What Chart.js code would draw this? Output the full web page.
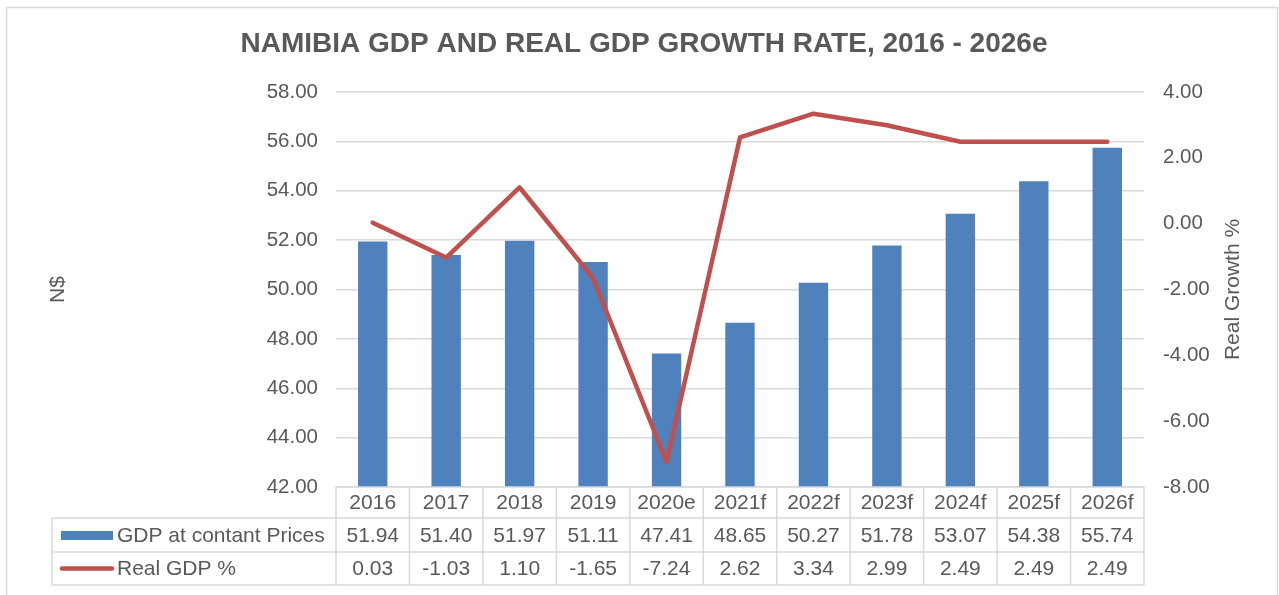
<!DOCTYPE html>
<html>
<head>
<meta charset="utf-8">
<script src="https://cdn.jsdelivr.net/npm/chart.js@4"></script>
<style>
  body { margin: 0; background: #fff; }
</style>
</head>
<body>
<canvas id="gdpChart" width="1279" height="595"></canvas>
<script>
let years = ['2016', '2017', '2018', '2019', '2020e', '2021f', '2022f', '2023f', '2024f', '2025f', '2026f'];
let gdpValues = [51.94, 51.40, 51.97, 51.11, 47.41, 48.65, 50.27, 51.78, 53.07, 54.38, 55.74];
let growthValues = [0.03, -1.03, 1.10, -1.65, -7.24, 2.62, 3.34, 2.99, 2.49, 2.49, 2.49];
let gdpLabel = 'GDP at contant Prices';
let growthLabel = 'Real GDP %';
let rightTitle = 'Real Growth %';

let textColor = '#595959';
let gridColor = '#d9d9d9';
let barColor = '#4f81bd';
let lineColor = '#c0504d';
let font = 'Liberation Sans, Arial, sans-serif';

// draws the frame, the right axis title and the data table under the plot, like Excel does
let dataTable = {
    id: 'dataTable',
    beforeDraw(chart) {
        let c = chart.ctx;
        c.save();
        c.fillStyle = '#fff';
        c.fillRect(0, 0, chart.width, chart.height);
        c.strokeStyle = gridColor;
        c.lineWidth = 1.5;
        c.strokeRect(6.5, 7.5, chart.width - 8, chart.height + 10);
        c.restore();
    },
    afterDraw(chart) {
        let c = chart.ctx;
        let x = chart.scales.x;
        let area = chart.chartArea;
        let colW = (area.right - area.left) / years.length;
        let top = area.bottom;
        let rows = [top, top + 31, top + 65, top + 98];
        let tableLeft = 52;

        c.save();

        // right axis title, reading upwards
        c.font = '21px ' + font;
        c.fillStyle = textColor;
        c.textAlign = 'center';
        c.textBaseline = 'middle';
        c.translate(1233, (area.top + area.bottom) / 2);
        c.rotate(-Math.PI / 2);
        c.fillText(rightTitle, 0, 0);
        c.setTransform(1, 0, 0, 1, 0, 0);

        c.strokeStyle = gridColor;
        c.lineWidth = 1.5;

        // horizontal lines
        c.beginPath();
        c.moveTo(area.left, rows[0]);
        c.lineTo(area.right, rows[0]);
        for (let r = 1; r < rows.length; r++) {
            c.moveTo(tableLeft, rows[r]);
            c.lineTo(area.right, rows[r]);
        }
        // vertical lines
        c.moveTo(tableLeft, rows[1]);
        c.lineTo(tableLeft, rows[3]);
        for (let i = 0; i <= years.length; i++) {
            let px = area.left + i * colW;
            c.moveTo(px, rows[0]);
            c.lineTo(px, rows[3]);
        }
        c.stroke();

        c.font = '21px ' + font;
        c.fillStyle = textColor;
        c.textBaseline = 'middle';
        c.textAlign = 'center';
        years.forEach((y, i) => {
            let px = x.getPixelForValue(i);
            c.fillText(y, px, (rows[0] + rows[1]) / 2 + 1);
            c.fillText(gdpValues[i].toFixed(2), px, (rows[1] + rows[2]) / 2 + 1);
            c.fillText(growthValues[i].toFixed(2), px, (rows[2] + rows[3]) / 2 + 1);
        });

        // legend keys
        let midGdp = (rows[1] + rows[2]) / 2;
        let midGrowth = (rows[2] + rows[3]) / 2;
        c.fillStyle = barColor;
        c.fillRect(61, midGdp - 4, 52, 9);
        c.strokeStyle = lineColor;
        c.lineWidth = 4.5;
        c.lineCap = 'round';
        c.beginPath();
        c.moveTo(62, midGrowth);
        c.lineTo(112, midGrowth);
        c.stroke();

        c.fillStyle = textColor;
        c.textAlign = 'left';
        c.fillText(gdpLabel, 117, midGdp + 1);
        c.fillText(growthLabel, 117, midGrowth + 1);
        c.restore();
    }
};

let ctx = document.getElementById('gdpChart').getContext('2d');
let gdpChart = new Chart(ctx, {
    type: 'bar',
    data: {
        labels: years,
        datasets: [{
            type: 'line',
            label: growthLabel,
            data: growthValues,
            yAxisID: 'y1',
            borderColor: lineColor,
            borderWidth: 4.5,
            borderCapStyle: 'round',
            borderJoinStyle: 'round',
            pointRadius: 0,
            tension: 0,
            order: 0
        }, {
            label: gdpLabel,
            data: gdpValues,
            yAxisID: 'y',
            backgroundColor: barColor,
            categoryPercentage: 1,
            barPercentage: 0.4,
            order: 1
        }]
    },
    options: {
        responsive: false,
        animation: false,
        layout: {
            padding: { left: 44, right: 35, top: 0, bottom: 108 }
        },
        plugins: {
            legend: { display: false },
            tooltip: { enabled: false },
            title: {
                display: true,
                text: 'NAMIBIA GDP AND REAL GDP GROWTH RATE, 2016 - 2026e',
                color: textColor,
                font: { family: font, size: 28, weight: 'bold', lineHeight: 1.2 },
                padding: { top: 27, bottom: 31.4 }
            }
        },
        scales: {
            x: {
                display: false,
                offset: true
            },
            y: {
                position: 'left',
                min: 42,
                max: 58,
                afterFit: (s) => { s.width = 292; },
                ticks: {
                    stepSize: 2,
                    padding: 18,
                    color: textColor,
                    font: { family: font, size: 20.5 },
                    callback: (v) => v.toFixed(2)
                },
                grid: { color: gridColor, lineWidth: 1.5, drawTicks: false },
                border: { display: false },
                title: {
                    display: true,
                    text: 'N$',
                    color: textColor,
                    padding: 2,
                    font: { family: font, size: 21 }
                }
            },
            y1: {
                position: 'right',
                min: -8,
                max: 4,
                afterFit: (s) => { s.width = 100; },
                ticks: {
                    stepSize: 2,
                    padding: 19,
                    color: textColor,
                    font: { family: font, size: 20.5 },
                    callback: (v) => v.toFixed(2)
                },
                grid: { display: false, drawTicks: false },
                border: { display: false }
            }
        }
    },
    plugins: [dataTable]
});
</script>
</body>
</html>
